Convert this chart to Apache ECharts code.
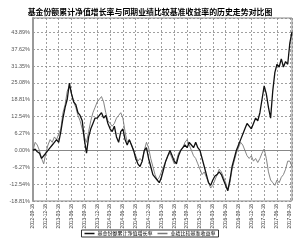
<!DOCTYPE html>
<html><head><meta charset="utf-8">
<script src="https://cdn.jsdelivr.net/npm/echarts@6/dist/echarts.min.js"></script>
<style>html,body{margin:0;padding:0;background:#fff}#c{width:300px;height:240px}</style>
</head><body><div id="c"></div>
<script>
const titleText = '基金份额累计净值增长率与同期业绩比较基准收益率的历史走势对比图';
const seriesNames = ['基金份额累计净值增长率', '业绩比较基准收益率'];
const tickLabels = ['2012-09-18','2012-12-18','2013-03-18','2013-06-18','2013-09-18','2013-12-18','2014-03-18','2014-06-18','2014-09-18','2014-12-18','2015-03-18','2015-06-18','2015-09-18','2015-12-18','2016-03-18','2016-06-18','2016-09-18','2016-12-18','2017-03-18','2017-06-18','2017-09-18'];
const fund = [0,0.5,-0.5,-1,-3,-2,-1,0,1,2,3,4,3,7,12,16,19,25,21,18,17,14,13,11,4,-1,5,8,10,12,12,13,14,12,13,10,8,7,9,5,3,7,8,4,2,4,2,0,-3,-5,-6,-4,0,1,-3,-6,-9,-10,-11,-12,-10,-7,-4,-2,0,-2,-4,-5,-2,0,1,2,1,3,2,1,3,1,0,-3,-6,-9,-12,-13,-11,-9.5,-9,-8,-9,-11,-13,-15,-11,-6,-3,0,2,4,6,8,10,9,8,10,12,11,14,19,24,21,16,12,22,29,32,31,34,31,33,32,40,44];
const bench = [0,3,2,0,-3,-5,-1,2,4,3,5,4,6,8,14,17,22,24,21,18,16,13,11,8,5,3,7,11,14,16,18,19,20,18,14,11,10,9,10,12,13,14,12,7,3,4,2,0,-2,-4,-3,-4,0,3,1,-3,-6,-9,-11,-10,-8,-6,-4,-2,-1,-3,-5,-4,-1,0,1,3,4,2,0,-2,-3,-5,-7,-9,-8,-10,-12,-14,-13,-11,-9,-7,-8,-10,-12,-15,-12,-7,-4,-1,1,3,2,0,-2,-3,-2,-4,-3,-4.5,-3,-1,0.5,-3,-8,-11,-12,-13,-11,-12,-10,-9,-7,-4,-4,-6];
const yMin = -18.81, yStep = 6.27, yTopLabel = 43.89, yMax = 49.2;
const pointsPerTick = 6;

const chart = echarts.init(document.getElementById('c'), null, {renderer: 'canvas'});
const cjk = '"Noto Sans CJK SC", sans-serif';
chart.setOption({
  animation: false,
  backgroundColor: '#fff',
  title: {text: titleText, left: 'center', top: 3, textStyle: {fontSize: 7.9, fontWeight: 'bold', color: '#000', fontFamily: cjk}},
  grid: {left: 33, right: 8, top: 18, bottom: 39, show: true, borderColor: '#888', borderWidth: 1},
  legend: {
    bottom: 3, left: 'center', itemGap: 5, itemWidth: 10, itemHeight: 1.5, icon: 'rect',
    borderColor: '#333', borderWidth: 1, padding: [1, 3, 1, 3], borderRadius: 0,
    textStyle: {fontSize: 5, color: '#000', fontFamily: cjk, padding: [0,0,0,-2]},
    data: seriesNames
  },
  xAxis: {
    type: 'value', min: 0, max: fund.length - 1, interval: pointsPerTick,
    axisLine: {show: true, lineStyle: {color: '#888', width: 1}},
    axisTick: {show: false},
    axisLabel: {rotate: 90, fontSize: 4.8, color: '#333', margin: 3, showMaxLabel: true,
      formatter: v => (v % pointsPerTick === 0 && tickLabels[v / pointsPerTick]) ? tickLabels[v / pointsPerTick] : ''},
    splitLine: {show: true, lineStyle: {color: '#888', type: [2, 2], width: 0.8}}
  },
  yAxis: {
    type: 'value', min: yMin, max: yMax, interval: yStep,
    axisLine: {show: true, onZero: false, lineStyle: {color: '#999', width: 2}},
    axisTick: {show: false},
    axisLabel: {fontSize: 5.5, color: '#555', margin: 3,
      formatter: v => v > yTopLabel + 0.01 ? '' : (Math.abs(v) < 0.005 ? '0.00' : v.toFixed(2)) + '%'},
    splitLine: {show: true, lineStyle: {color: '#888', type: [2, 2], width: 0.8}}
  },
  series: [
    {name: seriesNames[0], type: 'line', data: fund.map((v, i) => [i, v]), symbol: 'none',
     lineStyle: {color: '#111', width: 1.3}, itemStyle: {color: '#111'}, z: 3},
    {name: seriesNames[1], type: 'line', data: bench.map((v, i) => [i, v]), symbol: 'none',
     lineStyle: {color: '#777', width: 0.9}, itemStyle: {color: '#777'}, z: 2}
  ]
});
</script></body></html>
